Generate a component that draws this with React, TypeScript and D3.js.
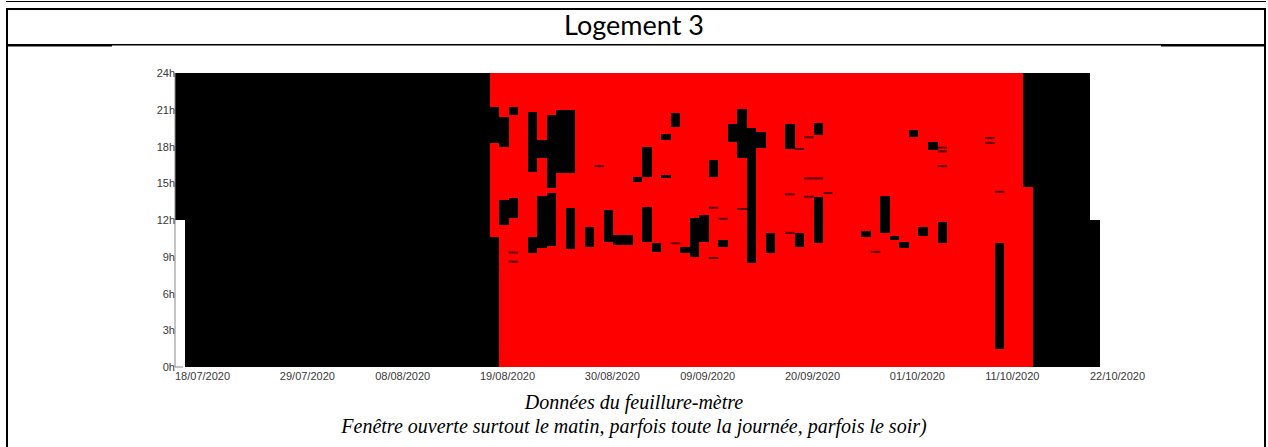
import React, { useEffect, useRef } from 'react';
import * as d3 from 'd3';

const WIDTH = 1268;
const HEIGHT = 447;

// x axis: day offsets from 18/07/2020 and their labels
const dateTickDays = [0, 11, 21, 32, 43, 53, 64, 75, 85, 96];
const dateTickLabels = [
    '18/07/2020', '29/07/2020', '08/08/2020', '19/08/2020', '30/08/2020',
    '09/09/2020', '20/09/2020', '01/10/2020', '11/10/2020', '22/10/2020'
];
const hourTicks = [0, 3, 6, 9, 12, 15, 18, 21, 24];

// every block is [dayFrom, dayTo, hourFrom, hourTo]
const recordedPeriod = [[0, 97, 0, 24]];
const missingPeriods = [[0, 1, 0, 12], [96, 97, 12, 24]];
const openPeriods = [
    [0, 33, 0, 24], [33, 34, 0, 10.6], [89, 90, 14.7, 24], [90, 97, 0, 24]
];
const openBlocks = [
    [33, 34, 18.3, 21.2], [34, 35, 18.0, 20.4], [35, 36, 20.6, 21.2],
    [34, 35, 11.6, 13.6], [35, 36, 12.2, 13.8],
    [37, 38, 15.9, 20.8], [37, 38, 9.3, 10.6],
    [38, 39, 17.1, 18.5], [38, 39, 9.7, 14.0],
    [39, 40, 14.6, 20.6], [39, 40, 9.9, 14.2],
    [40, 41, 15.8, 21.0], [41, 42, 15.8, 21.0], [41, 42, 9.6, 13.0],
    [43, 44, 9.8, 11.4], [45, 46, 10.2, 12.8], [46, 48, 10.0, 10.8],
    [48, 49, 15.1, 15.5], [49, 50, 15.5, 18.0], [49, 50, 10.2, 13.1],
    [50, 51, 9.4, 10.1], [51, 52, 18.5, 19.0], [51, 52, 15.4, 15.7],
    [52, 53, 19.6, 20.7], [53, 54, 9.3, 9.8], [54, 55, 9.0, 12.2],
    [55, 56, 10.2, 12.4], [56, 57, 15.5, 16.9], [57, 58, 9.8, 10.4],
    [58, 59, 18.4, 19.8], [59, 60, 17.1, 21.1], [60, 61, 8.5, 19.5],
    [61, 62, 17.9, 19.2], [62, 63, 9.3, 10.9], [64, 65, 17.8, 19.8],
    [65, 66, 9.8, 10.9], [67, 68, 18.9, 19.9], [67, 68, 10.1, 13.9],
    [72, 73, 10.6, 11.1], [74, 75, 10.9, 14.0], [75, 76, 10.35, 10.7],
    [76, 77, 9.75, 10.2], [77, 78, 18.75, 19.35], [78, 79, 10.7, 11.4],
    [79, 80, 17.7, 18.4], [80, 81, 10.1, 11.8], [86, 87, 1.5, 10.1]
];
// short openings: [day, hour]
const shortOpenings = [
    [35, 9.35], [35, 8.6], [44, 16.4], [52, 10.1], [56, 8.9], [56, 13.0],
    [57, 12.1], [59, 12.9], [64, 14.1], [64, 10.95], [65, 17.8], [66, 18.75],
    [66, 15.4], [67, 15.4], [66, 13.9], [68, 14.2], [73, 9.4], [80, 17.9],
    [80, 17.6], [80, 16.4], [85, 18.7], [85, 18.3], [86, 14.3]
];

const title = 'Logement 3';
const captionLines = [
    'Données du feuillure-mètre',
    'Fenêtre ouverte surtout le matin, parfois toute la journée, parfois le soir)'
];

const margin = { left: 175, top: 73 };
const plotHeight = 294;

const drawBlocks = (g, blocks, xScale, yScale, color) => {
    g.append('g')
        .selectAll('rect')
        .data(blocks)
        .enter()
        .append('rect')
        .attr('x', (d) => xScale(d[0]))
        .attr('y', (d) => yScale(d[3]))
        .attr('width', (d) => xScale(d[1]) - xScale(d[0]))
        .attr('height', (d) => yScale(d[2]) - yScale(d[3]))
        .attr('fill', color)
        .attr('shape-rendering', 'crispEdges');
};

const App = () => {
    const ref = useRef(null);

    useEffect(() => {
        const svg = d3.select(ref.current);
        svg.selectAll('*').remove();

        // frame of the table
        const frame = svg.append('g').attr('fill', '#000');
        frame.append('rect').attr('x', 6).attr('y', 1).attr('width', 1260).attr('height', 1);
        frame.append('rect').attr('x', 6).attr('y', 8).attr('width', 1260).attr('height', 2);
        frame.append('rect').attr('x', 6).attr('y', 8).attr('width', 2).attr('height', HEIGHT - 8);
        frame.append('rect').attr('x', 1264).attr('y', 8).attr('width', 2).attr('height', HEIGHT - 8);
        frame.append('rect').attr('x', 6).attr('y', 44).attr('width', 1260).attr('height', 1.5);
        frame.append('rect').attr('x', 6).attr('y', 44).attr('width', 106).attr('height', 2.5);
        frame.append('rect').attr('x', 1161).attr('y', 44).attr('width', 105).attr('height', 2.5);

        svg.append('text')
            .attr('x', 634)
            .attr('y', 35)
            .attr('text-anchor', 'middle')
            .attr('font-family', 'Lato, sans-serif')
            .attr('font-size', 27)
            .attr('fill', '#000')
            .text(title);

        const xScale = d3.scaleLinear().domain([0, 96]).range([0, 915]);
        const yScale = d3.scaleLinear().domain([0, 24]).range([plotHeight, 0]);

        const g = svg.append('g')
            .attr('transform', `translate(${margin.left},${margin.top})`);

        drawBlocks(g, recordedPeriod, xScale, yScale, '#ff0000');
        drawBlocks(g, openPeriods, xScale, yScale, '#000000');
        drawBlocks(g, openBlocks, xScale, yScale, '#000000');

        g.append('g')
            .selectAll('rect')
            .data(shortOpenings)
            .enter()
            .append('rect')
            .attr('x', (d) => xScale(d[0]))
            .attr('y', (d) => yScale(d[1]) - 1)
            .attr('width', xScale(1) - xScale(0))
            .attr('height', 2)
            .attr('fill', '#5a0000');

        drawBlocks(g, missingPeriods, xScale, yScale, '#ffffff');

        // axes
        g.append('line')
            .attr('x1', 0).attr('x2', 0)
            .attr('y1', 0).attr('y2', plotHeight)
            .attr('stroke', '#8a8a8a');
        g.append('line')
            .attr('x1', 0).attr('x2', 8)
            .attr('y1', plotHeight).attr('y2', plotHeight)
            .attr('stroke', '#8a8a8a');

        g.append('g')
            .selectAll('text')
            .data(hourTicks)
            .enter()
            .append('text')
            .attr('x', 0)
            .attr('y', (d) => yScale(d) + 4)
            .attr('text-anchor', 'end')
            .attr('font-family', 'Liberation Sans, Arial, sans-serif')
            .attr('font-size', 11)
            .attr('fill', '#3a3a3a')
            .text((d) => d + 'h');

        g.append('g')
            .selectAll('text')
            .data(dateTickDays)
            .enter()
            .append('text')
            .attr('x', (d) => xScale(d))
            .attr('y', plotHeight + 13)
            .attr('font-family', 'Liberation Sans, Arial, sans-serif')
            .attr('font-size', 11)
            .attr('fill', '#3a3a3a')
            .text((d, i) => dateTickLabels[i]);

        svg.append('g')
            .selectAll('text')
            .data(captionLines)
            .enter()
            .append('text')
            .attr('x', 634)
            .attr('y', (d, i) => 409 + i * 24)
            .attr('text-anchor', 'middle')
            .attr('font-family', 'Liberation Serif, serif')
            .attr('font-style', 'italic')
            .attr('font-size', 20)
            .attr('fill', '#000')
            .text((d) => d);
    }, []);

    return (
        <div style={{ position: 'absolute', left: 0, top: 0 }}>
            <svg ref={ref} width={WIDTH} height={HEIGHT} style={{ display: 'block', background: '#fff' }} />
        </div>
    );
};

export default App;
